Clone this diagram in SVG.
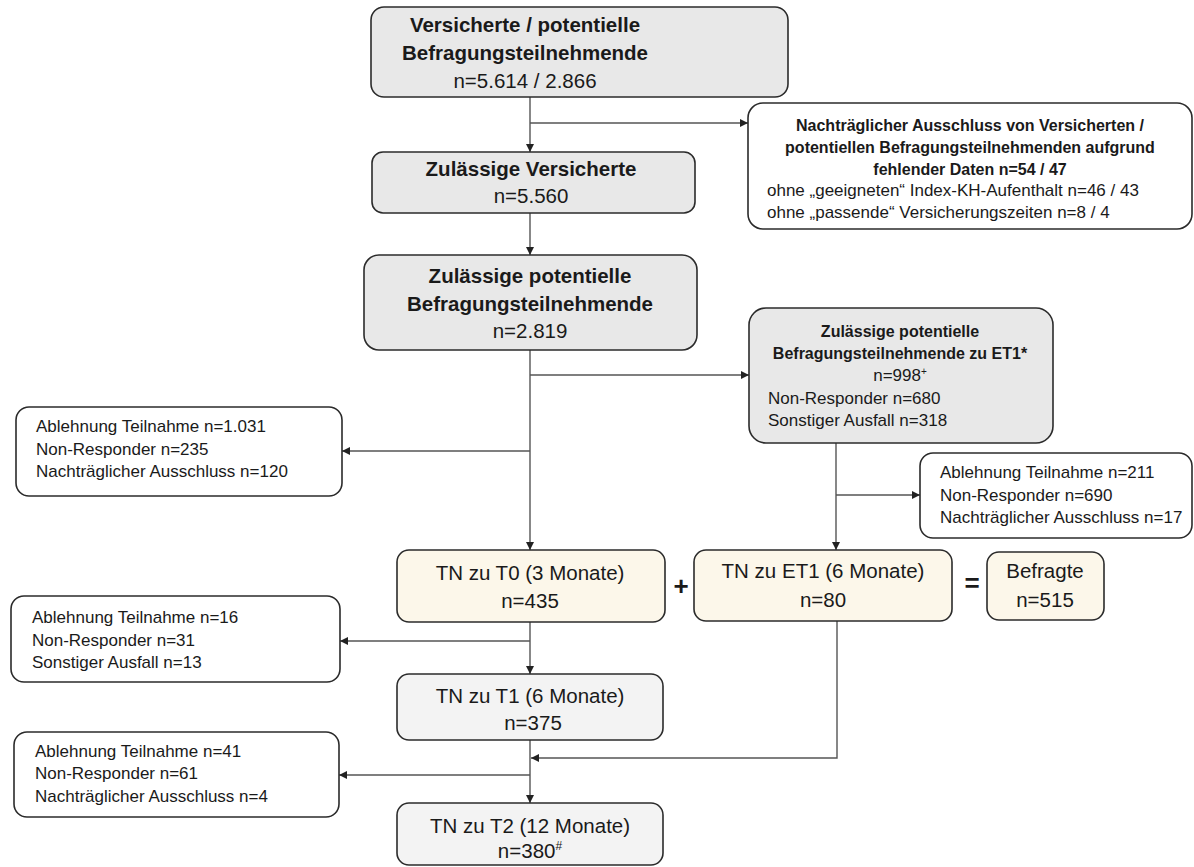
<svg xmlns="http://www.w3.org/2000/svg" width="1194" height="867" viewBox="0 0 1194 867">
<style>
text{font-family:"Liberation Sans",Arial,sans-serif;fill:#1a1a1a}
.b{font-weight:bold}
.big{font-size:20.5px}
.sm{font-size:17px}
.smb{font-size:16px;font-weight:bold}
.c{text-anchor:middle}
.box{stroke:#2b2b2b;stroke-width:1.6}
.gray{fill:#e8e8e8}
.lgray{fill:#f3f3f3}
.cream{fill:#fcf7ea}
.white{fill:#ffffff}
.con{stroke:#555;stroke-width:1.4;fill:none}
.op{font-size:26px;font-weight:bold}
</style>
<defs>
<marker id="ah" viewBox="0 0 10 10" refX="10" refY="5" markerWidth="8" markerHeight="8" markerUnits="userSpaceOnUse" orient="auto">
<path d="M0,0 L10,5 L0,10 z" fill="#222"/>
</marker>
</defs>
<rect width="1194" height="867" fill="#ffffff"/>

<g id="connectors">
<line class="con" x1="530" y1="97" x2="530" y2="152" marker-end="url(#ah)"/>
<line class="con" x1="530" y1="123" x2="748" y2="123" marker-end="url(#ah)"/>
<line class="con" x1="530" y1="213" x2="530" y2="255" marker-end="url(#ah)"/>
<line class="con" x1="530" y1="350" x2="530" y2="550" marker-end="url(#ah)"/>
<line class="con" x1="530" y1="375" x2="749" y2="375" marker-end="url(#ah)"/>
<line class="con" x1="530" y1="451" x2="342" y2="451" marker-end="url(#ah)"/>
<line class="con" x1="836" y1="443" x2="836" y2="550" marker-end="url(#ah)"/>
<line class="con" x1="836" y1="495" x2="920" y2="495" marker-end="url(#ah)"/>
<line class="con" x1="530" y1="622" x2="530" y2="674" marker-end="url(#ah)"/>
<line class="con" x1="530" y1="641" x2="340" y2="641" marker-end="url(#ah)"/>
<line class="con" x1="530" y1="740" x2="530" y2="803" marker-end="url(#ah)"/>
<line class="con" x1="530" y1="775" x2="339" y2="775" marker-end="url(#ah)"/>
<polyline class="con" points="837,621 837,758 531,758" marker-end="url(#ah)"/>
</g>

<g id="n-versicherte">
<rect class="box gray" x="371" y="7" width="417" height="90" rx="13"/>
<text class="big b c" x="525" y="32">Versicherte / potentielle</text>
<text class="big b c" x="525" y="60">Befragungsteilnehmende</text>
<text class="big c" x="525" y="88">n=5.614 / 2.866</text>
</g>

<g id="n-ausschluss-daten">
<rect class="box white" x="748" y="103" width="444" height="126" rx="15"/>
<text class="smb c" x="970" y="131">Nachträglicher Ausschluss von Versicherten /</text>
<text class="smb c" x="970" y="153">potentiellen Befragungsteilnehmenden aufgrund</text>
<text class="smb c" x="970" y="175">fehlender Daten n=54 / 47</text>
<text class="sm" x="767" y="196">ohne „geeigneten“ Index-KH-Aufenthalt n=46 / 43</text>
<text class="sm" x="767" y="218">ohne „passende“ Versicherungszeiten n=8 / 4</text>
</g>

<g id="n-zul-versicherte">
<rect class="box gray" x="372" y="152" width="323" height="61" rx="11"/>
<text class="big b c" x="531" y="176">Zulässige Versicherte</text>
<text class="big c" x="531" y="203">n=5.560</text>
</g>

<g id="n-zul-potentielle">
<rect class="box gray" x="364" y="255" width="333" height="95" rx="15"/>
<text class="big b c" x="530" y="283">Zulässige potentielle</text>
<text class="big b c" x="530" y="311">Befragungsteilnehmende</text>
<text class="big c" x="530" y="338">n=2.819</text>
</g>

<g id="n-zul-et1">
<rect class="box gray" x="749" y="308" width="304" height="135" rx="17"/>
<text class="smb c" x="900" y="337">Zulässige potentielle</text>
<text class="smb c" x="900" y="359">Befragungsteilnehmende zu ET1*</text>
<text class="sm c" x="900" y="381">n=998<tspan font-size="10" dy="-6">+</tspan></text>
<text class="sm" x="768" y="404">Non-Responder n=680</text>
<text class="sm" x="768" y="426">Sonstiger Ausfall n=318</text>
</g>

<g id="n-ausfall-t0">
<rect class="box white" x="16" y="407" width="326" height="89" rx="13"/>
<text class="sm" x="36" y="432">Ablehnung Teilnahme n=1.031</text>
<text class="sm" x="36" y="455">Non-Responder n=235</text>
<text class="sm" x="36" y="477">Nachträglicher Ausschluss n=120</text>
</g>

<g id="n-ausfall-et1">
<rect class="box white" x="920" y="453" width="272" height="85" rx="13"/>
<text class="sm" x="940" y="478">Ablehnung Teilnahme n=211</text>
<text class="sm" x="940" y="501">Non-Responder n=690</text>
<text class="sm" x="940" y="523">Nachträglicher Ausschluss n=17</text>
</g>

<g id="n-t0">
<rect class="box cream" x="397" y="550" width="268" height="72" rx="12"/>
<text class="big c" x="530" y="580">TN zu T0 (3 Monate)</text>
<text class="big c" x="530" y="608">n=435</text>
</g>

<text class="op c" x="681" y="595">+</text>

<g id="n-et1">
<rect class="box cream" x="694" y="550" width="258" height="71" rx="12"/>
<text class="big c" x="823" y="578">TN zu ET1 (6 Monate)</text>
<text class="big c" x="823" y="607">n=80</text>
</g>

<text class="op c" x="972" y="592">=</text>

<g id="n-befragte">
<rect class="box cream" x="987" y="552" width="117" height="68" rx="12"/>
<text class="big c" x="1045" y="578">Befragte</text>
<text class="big c" x="1045" y="607">n=515</text>
</g>

<g id="n-ausfall-t1">
<rect class="box white" x="11" y="596" width="329" height="86" rx="13"/>
<text class="sm" x="32" y="623">Ablehnung Teilnahme n=16</text>
<text class="sm" x="32" y="646">Non-Responder n=31</text>
<text class="sm" x="32" y="668">Sonstiger Ausfall n=13</text>
</g>

<g id="n-t1">
<rect class="box lgray" x="397" y="674" width="266" height="66" rx="12"/>
<text class="big c" x="530" y="703">TN zu T1 (6 Monate)</text>
<text class="big c" x="533" y="730">n=375</text>
</g>

<g id="n-ausfall-t2">
<rect class="box white" x="14" y="732" width="325" height="85" rx="13"/>
<text class="sm" x="35" y="757">Ablehnung Teilnahme n=41</text>
<text class="sm" x="35" y="779">Non-Responder n=61</text>
<text class="sm" x="35" y="802">Nachträglicher Ausschluss n=4</text>
</g>

<g id="n-t2">
<rect class="box lgray" x="397" y="803" width="266" height="62" rx="12"/>
<text class="big c" x="530" y="833">TN zu T2 (12 Monate)</text>
<text class="big c" x="530" y="858">n=380<tspan font-size="12" dy="-8">#</tspan></text>
</g>
</svg>
